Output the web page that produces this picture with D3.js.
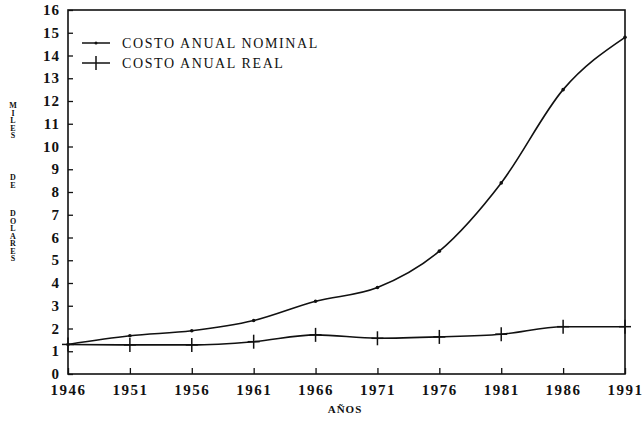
<!DOCTYPE html>
<html>
<head>
<meta charset="utf-8">
<script src="https://cdn.jsdelivr.net/npm/d3@7"></script>
<style>
  body { margin: 0; background: #fff; }
  text { font-family: "Liberation Serif", "DejaVu Serif", serif; fill: #111; }
</style>
</head>
<body>
<svg id="chart" width="644" height="422"></svg>
<script>
// years on the x axis
var years = [1946, 1951, 1956, 1961, 1966, 1971, 1976, 1981, 1986, 1991];
// costo anual nominal (miles de dolares)
var nominal = [1.3, 1.68, 1.9, 2.35, 3.2, 3.8, 5.4, 8.4, 12.5, 14.8];
// costo anual real (miles de dolares)
var real = [1.3, 1.28, 1.28, 1.42, 1.72, 1.57, 1.63, 1.75, 2.08, 2.08];
var yTicks = d3.range(0, 17);

var svg = d3.select("#chart");
var plotL = 68, plotR = 625, plotT = 10, plotB = 374;

var x = d3.scaleLinear().domain([1946, 1991]).range([plotL, plotR]);
var y = d3.scaleLinear().domain([0, 16]).range([plotB, plotT]);

// frame
svg.append("rect").attr("x", plotL).attr("y", plotT).attr("width", plotR - plotL).attr("height", plotB - plotT)
  .attr("fill", "none").attr("stroke", "#111").attr("stroke-width", 1.6);

// y axis ticks + labels
var yAxis = d3.axisLeft(y).tickValues(yTicks).tickSize(-5).tickPadding(8).tickFormat(d3.format("d"));
var gy = svg.append("g").attr("transform", "translate(" + plotL + ",0)").call(yAxis);
gy.select(".domain").remove();
gy.selectAll("line").attr("stroke", "#111").attr("stroke-width", 1.3);
gy.selectAll("text").attr("font-size", 15).attr("font-weight", "bold").attr("letter-spacing", 1)
  .attr("dy", "0.3em");

// x axis ticks + labels
var xAxis = d3.axisBottom(x).tickValues(years).tickSize(-6).tickPadding(10).tickFormat(d3.format("d"));
var gx = svg.append("g").attr("transform", "translate(0," + plotB + ")").call(xAxis);
gx.select(".domain").remove();
gx.selectAll("line").attr("stroke", "#111").attr("stroke-width", 1.3);
gx.selectAll("text").attr("font-size", 15).attr("font-weight", "bold").attr("letter-spacing", 1.5);

// axis titles
svg.append("text").attr("x", 345).attr("y", 413).attr("text-anchor", "middle")
  .attr("font-size", 11).attr("font-weight", "bold").attr("letter-spacing", 1).text("AÑOS");

var yTitle = [["M","I","L","E","S"], ["D","E"], ["D","O","L","A","R","E","S"]];
var yStarts = [105, 177, 213];
yTitle.forEach(function(word, wi) {
  word.forEach(function(ch, ci) {
    svg.append("text").attr("x", 13).attr("y", yStarts[wi] + ci * 7.5 + 3)
      .attr("text-anchor", "middle").attr("font-size", 8).attr("font-weight", "bold").text(ch);
  });
});

// lines
var line = d3.line().x(function(d, i) { return x(years[i]); }).y(function(d) { return y(d); })
  .curve(d3.curveMonotoneX);

svg.append("path").datum(nominal).attr("d", line).attr("fill", "none")
  .attr("stroke", "#111").attr("stroke-width", 1.6);
svg.append("path").datum(real).attr("d", line).attr("fill", "none")
  .attr("stroke", "#111").attr("stroke-width", 1.6);

// markers: dots on nominal, crosses on real
svg.selectAll(".dot").data(nominal).enter().append("circle")
  .attr("cx", function(d, i) { return x(years[i]); }).attr("cy", function(d) { return y(d); })
  .attr("r", 1.8).attr("fill", "#111");

var crosses = svg.selectAll(".cross").data(real).enter().append("g")
  .attr("transform", function(d, i) { return "translate(" + x(years[i]) + "," + y(d) + ")"; });
crosses.append("line").attr("x1", 0).attr("x2", 0).attr("y1", -7).attr("y2", 7)
  .attr("stroke", "#111").attr("stroke-width", 1.5);
crosses.append("line").attr("x1", -6).attr("x2", 6).attr("y1", 0).attr("y2", 0)
  .attr("stroke", "#111").attr("stroke-width", 1.5);

// legend
var legend = svg.append("g");
legend.append("line").attr("x1", 82).attr("x2", 110).attr("y1", 43).attr("y2", 43)
  .attr("stroke", "#111").attr("stroke-width", 1.5);
legend.append("circle").attr("cx", 96).attr("cy", 43).attr("r", 1.5).attr("fill", "#111");
legend.append("text").attr("x", 122).attr("y", 48).attr("font-size", 14).attr("letter-spacing", 1.6)
  .text("COSTO ANUAL NOMINAL");
legend.append("line").attr("x1", 82).attr("x2", 110).attr("y1", 63).attr("y2", 63)
  .attr("stroke", "#111").attr("stroke-width", 1.5);
legend.append("line").attr("x1", 96).attr("x2", 96).attr("y1", 56).attr("y2", 70)
  .attr("stroke", "#111").attr("stroke-width", 1.5);
legend.append("text").attr("x", 122).attr("y", 68).attr("font-size", 14).attr("letter-spacing", 1.6)
  .text("COSTO ANUAL REAL");
</script>
</body>
</html>
